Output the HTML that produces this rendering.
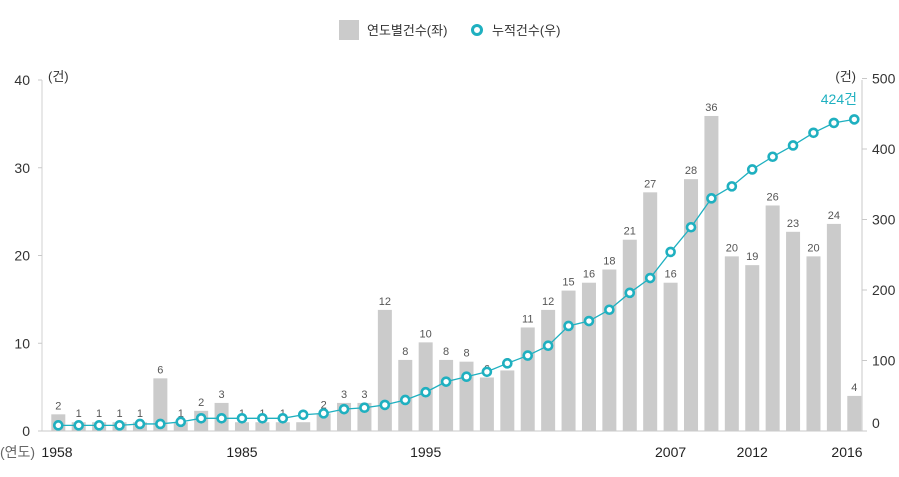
<!DOCTYPE html>
<html><head><meta charset="utf-8"><style>
body{margin:0;background:#fff;}
svg{display:block;font-family:"Liberation Sans","Noto Sans CJK KR",sans-serif;}
</style></head><body>
<svg id="chart" width="899" height="477">
<g>
<rect x="339" y="20" width="20" height="20" fill="#cbcbcb"/>
<text x="367" y="35" font-size="13" fill="#333">연도별건수(좌)</text>
<circle cx="477" cy="30" r="4.5" fill="#fff" stroke="#1fb0c0" stroke-width="3"/>
<text x="492" y="35" font-size="13" fill="#333">누적건수(우)</text>
</g>
<g id="axes"></g><g id="bars"></g><g id="line"></g>
</svg>
<script>
const years=["1958","","","","","","","","","1985","","","","","","","","","1995","","","","","","","","","","","","2007","","","","2012","","","","","2016"];
const barValues=[1.9,1,1,1,1,6,1,2.3,3.2,1,1,1,1,2,3.2,3.2,13.8,8.1,10.1,8.1,7.9,6.1,6.9,11.8,13.8,16,16.9,18.4,21.8,27.2,16.9,28.7,35.9,19.9,18.9,25.7,22.7,19.9,23.6,4];
const barLabels=["2","1","1","1","1","6","1","2","3","1","1","1","1","2","3","3","12","8","10","8","8","6","6","11","12","15","16","18","21","27","16","28","36","20","19","26","23","20","24","4"];
const cumValues=[8,8,8,8,10,10,13,18,18,18,18,18,23,25,31,33,37,44,55,70,77,84,96,107,121,149,156,172,196,217,254,289,330,347,371,389,405,423,437,442];
const leftTicks=[0,10,20,30,40];
const rightTicks=[0,100,200,300,400,500];
const NS="http://www.w3.org/2000/svg";
const base=431,x0=58.3,step=20.41,axL=42,axR=862;
function xs(i){return x0+i*step;}
function yl(v){return base-v*8.775;}
function yr(v){return base-v*0.705;}
function mk(p,tag,a,txt){const e=document.createElementNS(NS,tag);for(const k in a)e.setAttribute(k,a[k]);if(txt!==undefined)e.textContent=txt;p.appendChild(e);return e;}
const ax=document.getElementById('axes'),bg=document.getElementById('bars'),lg=document.getElementById('line');
let e;
e=mk(ax,'line',{x1:axL,x2:axR,y1:base,y2:base,stroke:'#c8c8c8'});


e=mk(ax,'line',{x1:axL,x2:axL,y1:80,y2:base,stroke:'#d0d0d0'});


e=mk(ax,'line',{x1:axR,x2:axR,y1:80,y2:base,stroke:'#c8c8c8'});


leftTicks.forEach(v=>{
 e=mk(ax,'text',{x:30,y:yl(v)+5,'font-size':14,'text-anchor':'end',fill:'#333'},String(v));
 
 
 mk(ax,'line',{x1:axL-4,x2:axL,y1:yl(v),y2:yl(v),stroke:'#c8c8c8'});
});
rightTicks.forEach(v=>{
 e=mk(ax,'text',{x:872,y:yr(v)+(v===0?-3:5),'font-size':14,fill:'#333'},String(v));
 
 
 mk(ax,'line',{x1:axR,x2:axR+5,y1:yr(v),y2:yr(v),stroke:'#c8c8c8'});
});
e=mk(ax,'text',{x:48,y:81,'font-size':13,fill:'#333'},'(건)');


e=mk(ax,'text',{x:856,y:81,'font-size':13,fill:'#333','text-anchor':'end'},'(건)');


e=mk(ax,'text',{x:0,y:457,'font-size':14,fill:'#666'},'(연도)');


years.forEach((y,i)=>{if(!y)return;
 let xx=xs(i);if(i===0)xx=57;if(i===years.length-1)xx=847;
 e=mk(ax,'text',{x:xx,y:457,'font-size':14,fill:'#222','text-anchor':'middle'},y);
 
 
});
barValues.forEach((v,i)=>{
 e=mk(bg,'rect',{x:xs(i)-7,y:yl(v),width:14,height:base-yl(v),fill:'#cbcbcb'});
 
 
 e=mk(bg,'text',{x:xs(i),y:yl(v)-5,'font-size':11,fill:'#555','text-anchor':'middle'},barLabels[i]);
 
 
});
e=mk(lg,'polyline',{points:cumValues.map((v,i)=>xs(i)+','+yr(v)).join(' '),fill:'none',stroke:'#1fb0c0','stroke-width':1.3});


cumValues.forEach((v,i)=>{
 e=mk(lg,'circle',{cx:xs(i),cy:yr(v),r:4,fill:'#fff',stroke:'#1fb0c0','stroke-width':2.6});
 
 
});
e=mk(lg,'text',{x:857,y:104,'font-size':14,fill:'#1fb0c0','text-anchor':'end'},'424건');


</script>
</body></html>
